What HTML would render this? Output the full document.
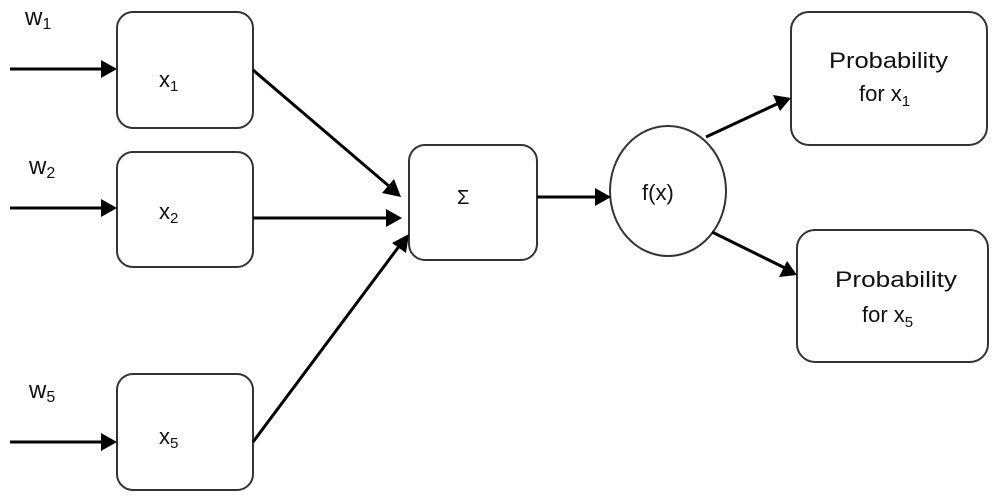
<!DOCTYPE html>
<html>
<head>
<meta charset="utf-8">
<style>
html,body{margin:0;padding:0;background:#fff;}
svg{display:block;}
text{font-family:"Liberation Sans","DejaVu Sans",sans-serif;fill:#111;}
</style>
</head>
<body>
<svg width="1000" height="503" viewBox="0 0 1000 503" xmlns="http://www.w3.org/2000/svg">
<g fill="none" stroke="#333" stroke-width="2">
<rect x="117" y="12" width="136" height="116" rx="16" ry="16"/>
<rect x="117" y="152" width="136" height="115" rx="16" ry="16"/>
<rect x="117" y="374" width="136" height="116" rx="16" ry="16"/>
<rect x="409" y="145" width="128" height="115" rx="16" ry="16"/>
<ellipse cx="668" cy="191" rx="58" ry="65"/>
<rect x="791" y="12" width="196" height="133" rx="18" ry="18"/>
<rect x="797" y="230" width="191" height="132" rx="18" ry="18"/>
</g>
<g stroke="#000" stroke-width="3" fill="none">
<line x1="10" y1="69" x2="104" y2="69"/>
<line x1="10" y1="208" x2="104" y2="208"/>
<line x1="10" y1="442" x2="104" y2="442"/>
<line x1="253" y1="70" x2="390" y2="187"/>
<line x1="253" y1="218" x2="388" y2="218"/>
<line x1="253" y1="442" x2="400" y2="245"/>
<line x1="537" y1="197" x2="597" y2="197"/>
<line x1="706" y1="137" x2="779" y2="103"/>
<line x1="712" y1="232" x2="785" y2="268"/>
</g>
<g fill="#000">
<polygon points="117,69 101,60 101,78"/>
<polygon points="117,208 101,199 101,217"/>
<polygon points="117,442 101,433 101,451"/>
<polygon points="401,197 394,179 382,193"/>
<polygon points="402,218 386,209 386,227"/>
<polygon points="409,234 392,243 406,253"/>
<polygon points="611,197 595,188 595,206"/>
<polygon points="791,98 773,95 780,111"/>
<polygon points="797,275 787,261 779,277"/>
</g>
<text x="25" y="25" font-size="24">w<tspan font-size="16" dy="4">1</tspan></text>
<text x="29" y="174" font-size="24">w<tspan font-size="16" dy="4">2</tspan></text>
<text x="29" y="398" font-size="24">w<tspan font-size="16" dy="4">5</tspan></text>
<text x="159" y="87" font-size="22">x<tspan font-size="15" dy="4">1</tspan></text>
<text x="159" y="219" font-size="22">x<tspan font-size="15" dy="4">2</tspan></text>
<text x="159" y="444" font-size="22">x<tspan font-size="15" dy="4">5</tspan></text>
<text x="457" y="204" font-size="20">Σ</text>
<text x="642" y="200" font-size="22">f(x)</text>
<text x="829" y="68" font-size="22" textLength="119" lengthAdjust="spacingAndGlyphs">Probability</text>
<text x="859" y="101" font-size="22">for x<tspan font-size="15" dy="5">1</tspan></text>
<text x="835" y="287" font-size="22" textLength="122" lengthAdjust="spacingAndGlyphs">Probability</text>
<text x="862" y="322" font-size="22">for x<tspan font-size="15" dy="5">5</tspan></text>
</svg>
</body>
</html>
